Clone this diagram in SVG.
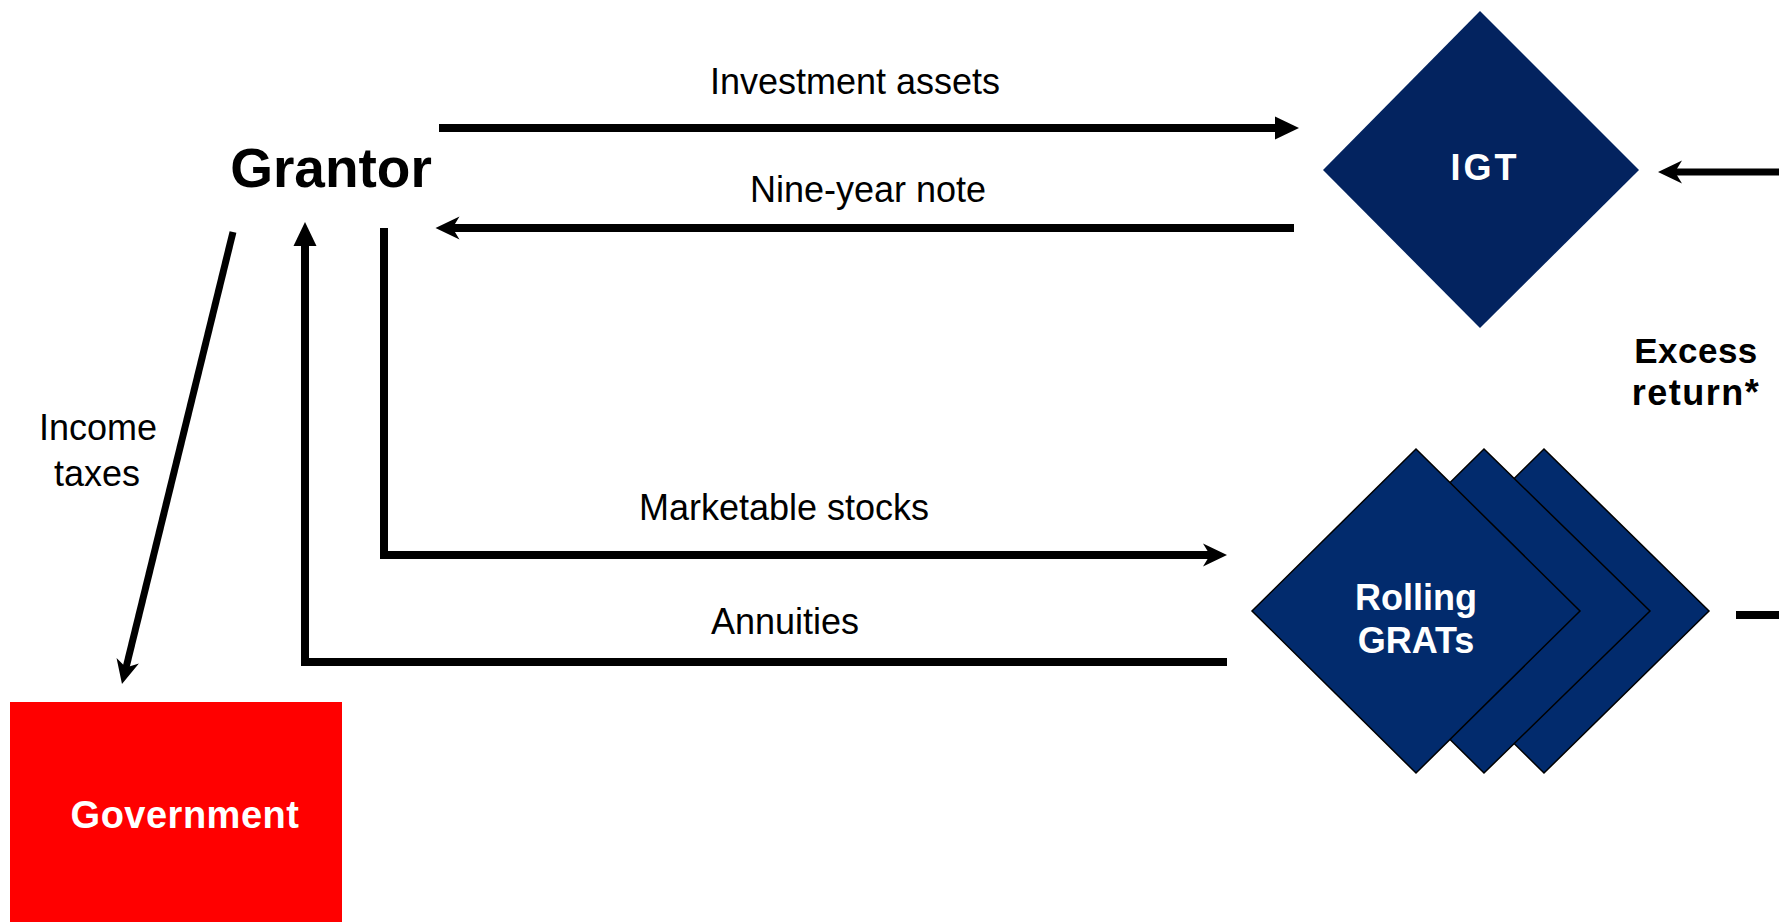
<svg xmlns="http://www.w3.org/2000/svg" width="1779" height="922" viewBox="0 0 1779 922">
<style>
  .lbl { font-family: "Liberation Sans", Arial, sans-serif; font-size: 36px; fill: #000; text-anchor: middle; }
  .bold { font-family: "Liberation Sans", Arial, sans-serif; font-weight: bold; text-anchor: middle; }
  .wht { fill: #fff; }
  .conn { fill: none; stroke: #000; stroke-width: 8; stroke-linejoin: miter; }
  .grat { fill: #022B6D; stroke: #000; stroke-width: 1.5; }
</style>
<defs>
  <marker id="tri" markerUnits="userSpaceOnUse" markerWidth="26" markerHeight="24" refX="1" refY="11.5" orient="auto" overflow="visible">
    <path d="M0,0 L24,11.5 L0,23 Z" fill="#000"/>
  </marker>
  <marker id="barb" markerUnits="userSpaceOnUse" markerWidth="26" markerHeight="24" refX="8" refY="11.5" orient="auto" overflow="visible">
    <path d="M0,0 L24,11.5 L0,23 L7,11.5 Z" fill="#000"/>
  </marker>
</defs>
<rect width="1779" height="922" fill="#fff"/>

<g id="connectors">
  <line id="investment" class="conn" x1="439" y1="128" x2="1276" y2="128" marker-end="url(#tri)"/>
  <line id="nine-year" class="conn" x1="1294" y1="228" x2="451.5" y2="228" marker-end="url(#barb)"/>
  <polyline id="marketable" class="conn" points="384,228 384,555 1211,555" marker-end="url(#barb)"/>
  <polyline id="annuities" class="conn" points="1227,662 305,662 305,245" marker-end="url(#tri)"/>
  <line id="income-taxes" class="conn" style="stroke-width:7" x1="233" y1="232" x2="125.8" y2="668.5" marker-end="url(#barb)"/>
  <line id="excess-return" class="conn" style="stroke-width:7" x1="1779" y1="172" x2="1674" y2="172" marker-end="url(#barb)"/>
  <line id="grats-out" class="conn" x1="1736" y1="615" x2="1779" y2="615"/>
  <text class="lbl" x="855" y="94">Investment assets</text>
  <text class="lbl" x="868" y="202">Nine-year note</text>
  <text class="lbl" x="784" y="520">Marketable stocks</text>
  <text class="lbl" x="785" y="634">Annuities</text>
  <text class="lbl" x="98" y="440">Income</text>
  <text class="lbl" x="97" y="486">taxes</text>
  <text class="bold" x="1696" y="363" font-size="35" letter-spacing="0.5">Excess</text>
  <text class="bold" x="1696" y="405" font-size="36" letter-spacing="1.5">return*</text>
</g>

<g id="grantor">
  <text class="bold" x="331" y="187" font-size="55">Grantor</text>
</g>

<g id="igt">
  <polygon points="1480,11 1639,170 1480,328 1323,170" fill="#03235F"/>
  <text class="bold wht" x="1485" y="180" font-size="36" letter-spacing="3">IGT</text>
</g>

<g id="rolling-grats">
  <polygon class="grat" points="1544,449 1709,611 1544,773 1380,611"/>
  <polygon class="grat" points="1484,449 1650,611 1484,773 1320,611"/>
  <polygon class="grat" points="1416,449 1580,611 1416,773 1252,611"/>
  <text class="bold wht" x="1416" y="610" font-size="36">Rolling</text>
  <text class="bold wht" x="1416" y="653" font-size="36">GRATs</text>
</g>

<g id="government">
  <rect x="10" y="702" width="332" height="220" fill="#FF0000"/>
  <text class="bold wht" x="185" y="828" font-size="38" letter-spacing="0.5">Government</text>
</g>
</svg>
